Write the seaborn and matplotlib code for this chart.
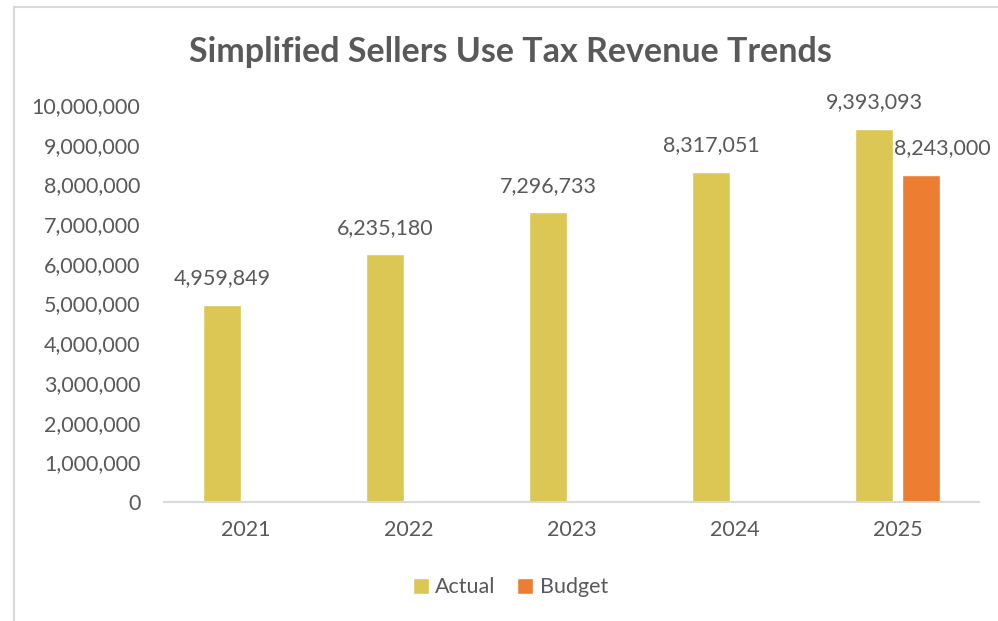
import numpy as np
import pandas as pd
import matplotlib
matplotlib.use("Agg")
import matplotlib.pyplot as plt
from matplotlib.patches import Rectangle
from matplotlib.ticker import FuncFormatter
import seaborn as sns

years = ["2021", "2022", "2023", "2024", "2025"]
actual = [4959849, 6235180, 7296733, 8317051, 9393093]
budget = [np.nan, np.nan, np.nan, np.nan, 8243000]
series = ["Actual", "Budget"]
colors = ["#DCC654", "#ED7D31"]

df = pd.DataFrame({
    "Year": years * 2,
    "Series": [series[0]] * len(years) + [series[1]] * len(years),
    "Value": actual + budget,
})

sns.set_theme(style="white")
plt.rcParams["font.family"] = ["Lato", "DejaVu Sans"]
text_color = "#595959"
fs = 15.5

fig = plt.figure(figsize=(9.98, 6.21), dpi=100)
ax = fig.add_axes([0.1643, 0.1916, 0.8167, 0.6393])

sns.barplot(data=df, x="Year", y="Value", hue="Series", order=years,
            hue_order=series, palette=colors, width=0.577, gap=0.21,
            saturation=1, errorbar=None, legend=True, ax=ax)

ax.set_ylim(0, 10_000_000)
ax.set_yticks(np.arange(0, 10_000_001, 1_000_000))
ax.yaxis.set_major_formatter(FuncFormatter(lambda v, p: f"{int(v):,}"))
ax.set_xlabel("")
ax.set_ylabel("")
ax.tick_params(axis="both", length=0, labelsize=fs, labelcolor=text_color)
ax.tick_params(axis="y", pad=17)
ax.tick_params(axis="x", pad=13)
for side in ["left", "right", "top"]:
    ax.spines[side].set_visible(False)
ax.spines["bottom"].set_color("#D9D9D9")
ax.spines["bottom"].set_linewidth(1.5)

# Value labels above each bar
for cont, name in zip(ax.containers, series):
    for rect in cont:
        h = rect.get_height()
        if np.isnan(h) or h == 0:
            continue
        dx = 15 if name == "Budget" else 0
        ax.annotate(f"{int(round(h)):,}",
                    (rect.get_x() + rect.get_width() / 2, h),
                    xytext=(dx, 12), textcoords="offset points",
                    ha="center", va="bottom", fontsize=fs, color=text_color)

leg = ax.legend(loc="center", bbox_to_anchor=(0.425, -0.215), ncol=2,
                frameon=False, fontsize=fs, handlelength=0.75,
                handleheight=0.75, handletextpad=0.3, columnspacing=1.0)
for t in leg.get_texts():
    t.set_color(text_color)

fig.text(0.511, 0.917, "Simplified Sellers Use Tax Revenue Trends",
         ha="center", va="center", fontsize=24.5, fontweight="bold",
         color=text_color)

# Chart-area frame
fig.patches.append(Rectangle((14 / 998, -0.1), 1.2, 1 - 7 / 621 + 0.1,
                             transform=fig.transFigure, fill=False,
                             edgecolor="#D9D9D9", linewidth=1.5))

fig.savefig("out.png", dpi=100)
